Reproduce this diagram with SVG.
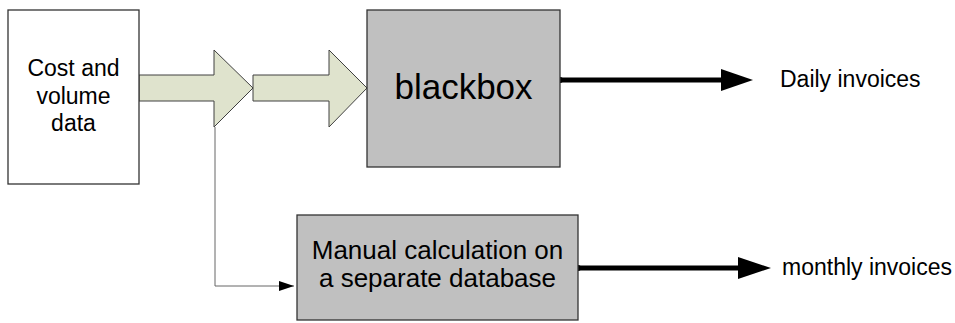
<svg xmlns="http://www.w3.org/2000/svg" width="955" height="323" viewBox="0 0 955 323">
<style>
  .box { stroke: #333333; stroke-width: 1.3; }
  .grey { fill: #c0c0c0; }
  .white { fill: #ffffff; }
  .big { fill: #dfe3cd; stroke: #404040; stroke-width: 1; }
  .txt { font-family: "Liberation Sans", Arial, sans-serif; fill: #000000; text-anchor: middle; }
  .lbl { font-family: "Liberation Sans", Arial, sans-serif; fill: #000000; font-size: 23px; }
  .thick { stroke: #000000; stroke-width: 5; fill: none; }
  .thin { stroke: #666666; stroke-width: 1; fill: none; }
</style>
<defs>
  <marker id="smallhead" markerWidth="15" markerHeight="10" refX="15" refY="5" orient="auto" markerUnits="userSpaceOnUse">
    <path d="M0,0 L15,5 L0,10 Z" fill="#000000"/>
  </marker>
</defs>
<rect width="955" height="323" fill="#ffffff"/>
<g id="connectors">
  <polygon class="big" points="139,75 214,75 214,50 253,88 214,127 214,101 139,101"/>
  <polygon class="big" points="253,75 329,75 329,50 367,88 329,127 329,101 253,101"/>
  <polyline class="thin" points="215,127 215,286 294,286" marker-end="url(#smallhead)"/>
  <line class="thick" x1="560" y1="80" x2="722" y2="80"/>
  <circle cx="560" cy="80" r="3" fill="#000000"/>
  <polygon points="721,69 753,80 721,91" fill="#000000"/>
  <line class="thick" x1="578" y1="268" x2="739" y2="268"/>
  <circle cx="578" cy="268" r="3" fill="#000000"/>
  <polygon points="738,257 771,268 738,279" fill="#000000"/>
</g>
<g id="cost">
  <rect class="box white" x="8" y="10" width="131" height="174"/>
  <text class="txt" font-size="23" x="73.5" y="76">Cost and</text>
  <text class="txt" font-size="23" x="73.5" y="103.5">volume</text>
  <text class="txt" font-size="23" x="73.5" y="131">data</text>
</g>
<g id="blackbox">
  <rect class="box grey" x="367" y="10" width="193" height="157"/>
  <text class="txt" font-size="35" x="463.5" y="98.5">blackbox</text>
</g>
<g id="manual">
  <rect class="box grey" x="297" y="215" width="281" height="105"/>
  <text class="txt" font-size="26" x="437.5" y="259">Manual calculation on</text>
  <text class="txt" font-size="26" x="437.5" y="287">a separate database</text>
</g>
<g id="daily">
  <text class="lbl" x="780" y="87">Daily invoices</text>
</g>
<g id="monthly">
  <text class="lbl" x="782" y="275">monthly invoices</text>
</g>
</svg>
